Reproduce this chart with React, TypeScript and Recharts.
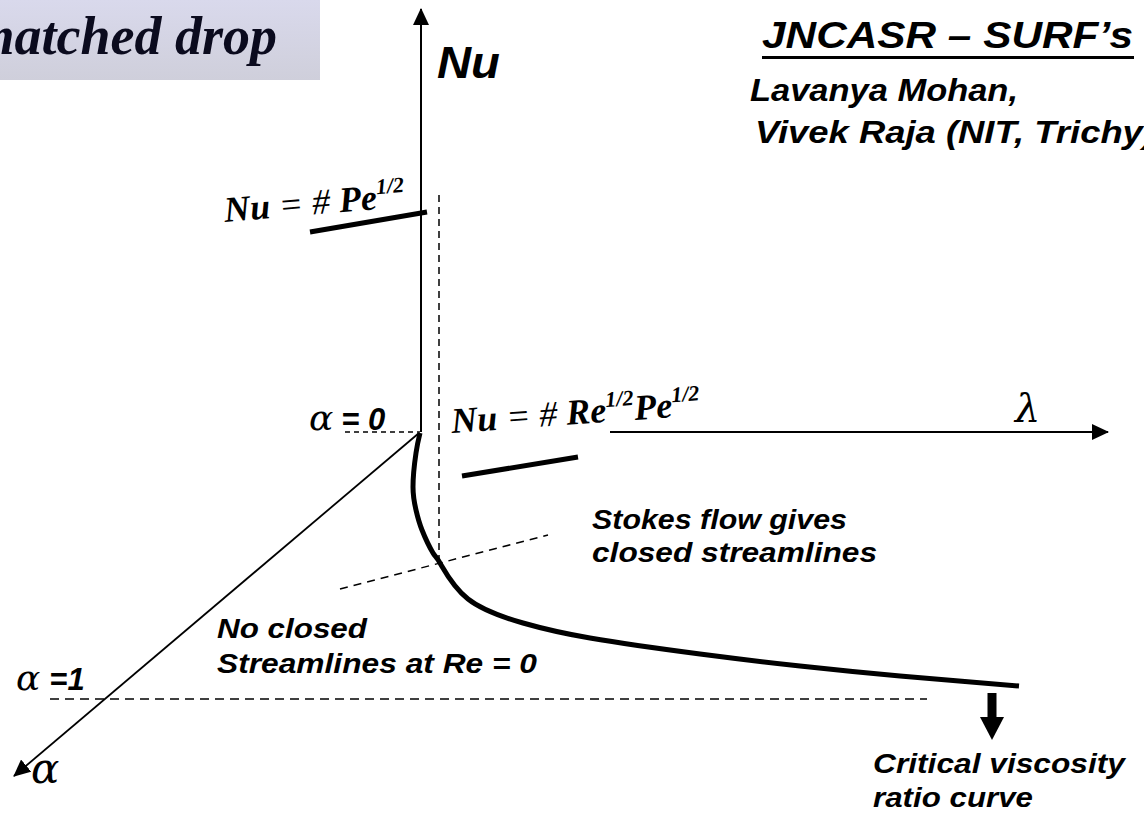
import React from 'react';
import { LineChart, Line, XAxis, YAxis, Customized } from 'recharts';

// schematic coordinates (y grows downward)
const nuAxis = [{ x: 421, y: 432 }, { x: 421, y: 9 }];
const lambdaAxis = [{ x: 610, y: 432 }, { x: 1108, y: 432 }];
const alphaAxis = [{ x: 419, y: 433 }, { x: 14, y: 776 }];
const criticalCurve = [
  { x: 420, y: 433 },
  { x: 416, y: 453 },
  { x: 413, y: 487 },
  { x: 416, y: 510 },
  { x: 422, y: 530 },
  { x: 433, y: 553 },
  { x: 440, y: 563 },
  { x: 468, y: 599 },
  { x: 523, y: 623 },
  { x: 590, y: 638 },
  { x: 700, y: 654 },
  { x: 800, y: 666 },
  { x: 900, y: 676 },
  { x: 1019, y: 686 },
];
const pecletBranch = [{ x: 310, y: 232 }, { x: 427, y: 212 }];
const reynoldsBranch = [{ x: 462, y: 476 }, { x: 578, y: 457 }];
const alphaZeroGuide = [{ x: 345, y: 432 }, { x: 420, y: 432 }];
const alphaOneGuide = [{ x: 50, y: 699 }, { x: 927, y: 699 }];
const verticalGuide = [{ x: 439, y: 195 }, { x: 439, y: 563 }];
const stokesGuide = [{ x: 340, y: 589 }, { x: 548, y: 535 }];
const criticalArrow = [{ x: 992, y: 693 }, { x: 992, y: 717 }];

const titleText = 'matched drop';
const creditTitle = 'JNCASR – SURF’s';
const creditNames = ['Lavanya Mohan,', 'Vivek Raja (NIT, Trichy)'];
const stokesNote = ['Stokes flow gives', 'closed streamlines'];
const noClosedNote = ['No closed', 'Streamlines at Re = 0'];
const criticalNote = ['Critical viscosity', 'ratio curve'];

const SANS = 'Arial, "Liberation Sans", sans-serif';
const SERIF = '"Times New Roman", "Liberation Serif", serif';
const GREEK = '"DejaVu Serif", serif';

const Overlay = () => (
  <g>
    <defs>
      <linearGradient id="titleFill" x1="0" y1="0" x2="0" y2="1">
        <stop offset="0%" stopColor="#d9d9ec" />
        <stop offset="100%" stopColor="#cfcfdb" />
      </linearGradient>
      <marker id="thinHead" markerUnits="userSpaceOnUse" markerWidth="17" markerHeight="16"
        refX="16" refY="8" orient="auto">
        <path d="M0,0 L17,8 L0,16 z" fill="#000" />
      </marker>
      <marker id="fatHead" markerUnits="userSpaceOnUse" markerWidth="24" markerHeight="24"
        refX="0" refY="12" orient="auto">
        <path d="M0,0 L23,12 L0,24 z" fill="#000" />
      </marker>
    </defs>
    <rect x={0} y={0} width={320} height={80} fill="url(#titleFill)" />
    <text x={277} y={54} textAnchor="end" fontFamily={SERIF} fontWeight="bold" fontStyle="italic"
      fontSize={54} fill="#0b0b1e">{titleText}</text>

    <text x={437} y={78} fontFamily={SANS} fontWeight="bold" fontStyle="italic" fontSize={45}
      textLength={63} lengthAdjust="spacingAndGlyphs">Nu</text>

    <text x={762} y={48} fontFamily={SANS} fontWeight="bold" fontStyle="italic" fontSize={36}
      textLength={371} lengthAdjust="spacingAndGlyphs">{creditTitle}</text>
    <rect x={762} y={56} width={372} height={3} fill="#000" />
    <text x={750} y={101} fontFamily={SANS} fontWeight="bold" fontStyle="italic" fontSize={31}
      textLength={268} lengthAdjust="spacingAndGlyphs">{creditNames[0]}</text>
    <text x={755} y={143} fontFamily={SANS} fontWeight="bold" fontStyle="italic" fontSize={31}
      textLength={400} lengthAdjust="spacingAndGlyphs">{creditNames[1]}</text>

    <g transform="rotate(-4.8 225 222)">
      <text x={225} y={222} fontFamily={SERIF} fontStyle="italic" fontSize={36} fill="#000">
        <tspan fontWeight="bold">Nu</tspan>
        <tspan> = # </tspan>
        <tspan fontWeight="bold">Pe</tspan>
        <tspan fontWeight="bold" fontSize={22} dy={-15}>1/2</tspan>
      </text>
    </g>
    <g transform="rotate(-4.1 452 433)">
      <text x={452} y={433} fontFamily={SERIF} fontStyle="italic" fontSize={36} fill="#000">
        <tspan fontWeight="bold">Nu</tspan>
        <tspan> = # </tspan>
        <tspan fontWeight="bold">Re</tspan>
        <tspan fontWeight="bold" fontSize={22} dy={-15}>1/2</tspan>
        <tspan fontWeight="bold" dy={15}>Pe</tspan>
        <tspan fontWeight="bold" fontSize={22} dy={-15}>1/2</tspan>
      </text>
    </g>

    <text x={309} y={430}>
      <tspan fontFamily={GREEK} fontStyle="italic" fontSize={36}>α</tspan>
      <tspan fontFamily={SANS} fontWeight="bold" fontStyle="italic" fontSize={31} dx={8}>= 0</tspan>
    </text>
    <text x={16} y={690}>
      <tspan fontFamily={GREEK} fontStyle="italic" fontSize={36}>α</tspan>
      <tspan fontFamily={SANS} fontWeight="bold" fontStyle="italic" fontSize={31} dx={9}>=1</tspan>
    </text>
    <text x={31} y={783} fontFamily={GREEK} fontStyle="italic" fontSize={42}>α</text>
    <text x={1015} y={422} fontFamily={GREEK} fontStyle="italic" fontSize={40}>λ</text>

    <text x={592} y={529} fontFamily={SANS} fontWeight="bold" fontStyle="italic" fontSize={27}
      textLength={255} lengthAdjust="spacingAndGlyphs">{stokesNote[0]}</text>
    <text x={592} y={562} fontFamily={SANS} fontWeight="bold" fontStyle="italic" fontSize={27}
      textLength={285} lengthAdjust="spacingAndGlyphs">{stokesNote[1]}</text>

    <text x={217} y={638} fontFamily={SANS} fontWeight="bold" fontStyle="italic" fontSize={28}
      textLength={150} lengthAdjust="spacingAndGlyphs">{noClosedNote[0]}</text>
    <text x={217} y={673} fontFamily={SANS} fontWeight="bold" fontStyle="italic" fontSize={28}
      textLength={320} lengthAdjust="spacingAndGlyphs">{noClosedNote[1]}</text>

    <text x={873} y={773} fontFamily={SANS} fontWeight="bold" fontStyle="italic" fontSize={28}
      textLength={252} lengthAdjust="spacingAndGlyphs">{criticalNote[0]}</text>
    <text x={873} y={807} fontFamily={SANS} fontWeight="bold" fontStyle="italic" fontSize={28}
      textLength={160} lengthAdjust="spacingAndGlyphs">{criticalNote[1]}</text>
  </g>
);

type Pt = { x: number; y: number };

const seg = (key: string, data: Pt[], width: number, extra: Record<string, unknown> = {}) => (
  <Line
    key={key}
    data={data}
    dataKey="y"
    type="linear"
    stroke="#000"
    strokeWidth={width}
    dot={false}
    activeDot={false}
    isAnimationActive={false}
    {...extra}
  />
);

export default function App() {
  return (
    <div style={{ position: 'absolute', left: 0, top: 0, width: 1144, height: 821, background: '#fff' }}>
      <LineChart width={1144} height={821} margin={{ top: 0, right: 0, bottom: 0, left: 0 }}>
        <XAxis type="number" dataKey="x" domain={[0, 1144]} hide allowDataOverflow />
        <YAxis type="number" domain={[0, 821]} reversed hide allowDataOverflow />
        <Customized component={Overlay} />
        {seg('alphaZero', alphaZeroGuide, 1.5, { strokeDasharray: '5 4' })}
        {seg('alphaOne', alphaOneGuide, 1.5, { strokeDasharray: '9 6' })}
        {seg('vertical', verticalGuide, 1.5, { strokeDasharray: '7 5' })}
        {seg('stokes', stokesGuide, 1.5, { strokeDasharray: '8 6' })}
        {seg('nu', nuAxis, 2, { markerEnd: 'url(#thinHead)' })}
        {seg('lambda', lambdaAxis, 2, { markerEnd: 'url(#thinHead)' })}
        {seg('alpha', alphaAxis, 1.8, { markerEnd: 'url(#thinHead)' })}
        {seg('pe', pecletBranch, 5)}
        {seg('re', reynoldsBranch, 5)}
        <Line
          data={criticalCurve}
          dataKey="y"
          type="natural"
          stroke="#000"
          strokeWidth={5}
          dot={false}
          activeDot={false}
          isAnimationActive={false}
        />
        {seg('critArrow', criticalArrow, 9, { markerEnd: 'url(#fatHead)' })}
      </LineChart>
    </div>
  );
}
